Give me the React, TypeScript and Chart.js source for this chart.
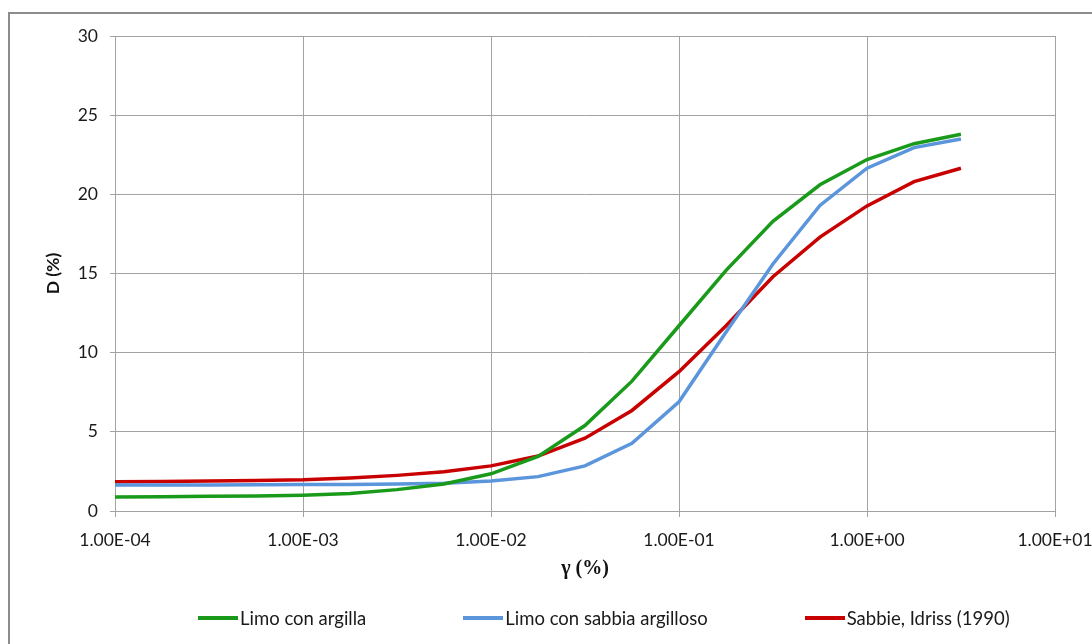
import React, { useEffect, useRef } from "react";
import { Chart, registerables } from "chart.js";

Chart.register(...registerables);

// Shear strain γ (%) sample points
const gammaValues = [
  0.0001, 0.000178, 0.000316, 0.000562, 0.001, 0.00178, 0.00316, 0.00562,
  0.01, 0.0178, 0.0316, 0.0562, 0.1, 0.178, 0.316, 0.562, 1, 1.78, 3.16,
];

// Damping D (%) per series
const limoConArgilla = [
  0.88, 0.9, 0.93, 0.95, 1.0, 1.1, 1.35, 1.7, 2.35, 3.45, 5.4, 8.2, 11.7,
  15.2, 18.3, 20.6, 22.2, 23.2, 23.8,
];
const limoConSabbiaArgilloso = [
  1.65, 1.65, 1.65, 1.66, 1.67, 1.68, 1.7, 1.75, 1.9, 2.17, 2.85, 4.27, 6.9,
  11.3, 15.6, 19.3, 21.65, 22.95, 23.5,
];
const sabbieIdriss = [
  1.85, 1.87, 1.9, 1.93, 1.97, 2.08, 2.25, 2.48, 2.85, 3.47, 4.6, 6.35, 8.8,
  11.7, 14.8, 17.3, 19.27, 20.8, 21.65,
];

const seriesNames = ["Limo con argilla", "Limo con sabbia argilloso", "Sabbie, Idriss (1990)"];
const seriesColors = ["#1a9a1a", "#5b95dc", "#c80000"];

const xTickValues = [0.0001, 0.001, 0.01, 0.1, 1, 10];
const xTickLabels = ["1.00E-04", "1.00E-03", "1.00E-02", "1.00E-01", "1.00E+00", "1.00E+01"];
const yMin = 0;
const yMax = 30;
const yStep = 5;

const GRID = "#a3a3a3";
const FONT = "Lato";

export default function App() {
  const canvasRef = useRef<HTMLCanvasElement | null>(null);

  useEffect(() => {
    const canvas = canvasRef.current;
    if (!canvas) return;
    const seriesValues = [limoConArgilla, limoConSabbiaArgilloso, sabbieIdriss];
    const chart = new Chart(canvas, {
      type: "line",
      data: {
        datasets: seriesValues.map((vals, s) => ({
          label: seriesNames[s],
          data: gammaValues.map((x, i) => ({ x, y: vals[i] })),
          borderColor: seriesColors[s],
          backgroundColor: seriesColors[s],
          borderWidth: 3.5,
          pointRadius: 0,
          pointHoverRadius: 0,
          tension: 0,
          fill: false,
        })),
      },
      options: {
        animation: false,
        responsive: false,
        devicePixelRatio: 1,
        events: [],
        layout: { padding: { left: 0, top: 36, right: 37, bottom: 54 } },
        plugins: {
          legend: { display: false },
          tooltip: { enabled: false },
        },
        scales: {
          x: {
            type: "logarithmic",
            min: 0.0001,
            max: 10,
            afterBuildTicks: (scale: any) => {
              scale.ticks = xTickValues.map((v) => ({ value: v }));
            },
            afterFit: (scale: any) => {
              scale.height = 79;
              scale.paddingLeft = 0;
              scale.paddingRight = 0;
            },
            ticks: {
              autoSkip: false,
              maxRotation: 0,
              minRotation: 0,
              padding: 13,
              color: "#1a1a1a",
              font: { family: FONT, size: 17.5 },
              callback: (value: any) => {
                const idx = xTickValues.findIndex(
                  (v) => Math.abs(Math.log10(v) - Math.log10(Number(value))) < 1e-6
                );
                return idx >= 0 ? xTickLabels[idx] : "";
              },
            },
            grid: { color: GRID, lineWidth: 1, tickLength: 6 },
            border: { display: true, color: GRID, width: 1 },
            title: {
              display: true,
              text: "γ (%)",
              color: "#111",
              font: { family: "Liberation Serif", weight: "bold", size: 20 },
              padding: { top: 0, bottom: 9 },
            },
          },
          y: {
            type: "linear",
            min: yMin,
            max: yMax,
            afterFit: (scale: any) => {
              scale.width = 115;
              scale.paddingTop = 0;
              scale.paddingBottom = 0;
            },
            ticks: {
              stepSize: yStep,
              padding: 12,
              color: "#1a1a1a",
              font: { family: FONT, size: 17.5 },
            },
            grid: { color: GRID, lineWidth: 1, tickLength: 5 },
            border: { display: true, color: GRID, width: 1 },
            title: {
              display: true,
              text: "D (%)",
              color: "#111",
              font: { family: FONT, weight: "bold", size: 17.5 },
              padding: { top: 43, bottom: 0 },
            },
          },
        },
      },
    });
    return () => chart.destroy();
  }, []);

  return (
    <div
      style={{
        position: "fixed",
        left: 0,
        top: 0,
        width: 1092,
        height: 644,
        overflow: "hidden",
        background: "#ffffff",
      }}
    >
      <div
        style={{
          position: "absolute",
          left: 8,
          top: 12,
          width: 1200,
          height: 800,
          border: "2px solid #8c8c8c",
          boxSizing: "border-box",
        }}
      />
      <canvas
        ref={canvasRef}
        width={1092}
        height={644}
        style={{ position: "absolute", left: 0, top: 0, width: 1092, height: 644 }}
      />
      <div
        style={{
          position: "absolute",
          left: 198,
          top: 606,
          height: 24,
          display: "flex",
          alignItems: "center",
          gap: 97,
          fontFamily: FONT,
          fontSize: 18.5,
          color: "#1a1a1a",
          whiteSpace: "nowrap",
        }}
      >
        {seriesNames.map((name, i) => (
          <div key={name} style={{ display: "flex", alignItems: "center" }}>
            <span
              style={{
                display: "inline-block",
                width: 40,
                height: 3.5,
                background: seriesColors[i],
                marginRight: 2,
              }}
            />
            <span>{name}</span>
          </div>
        ))}
      </div>
    </div>
  );
}
